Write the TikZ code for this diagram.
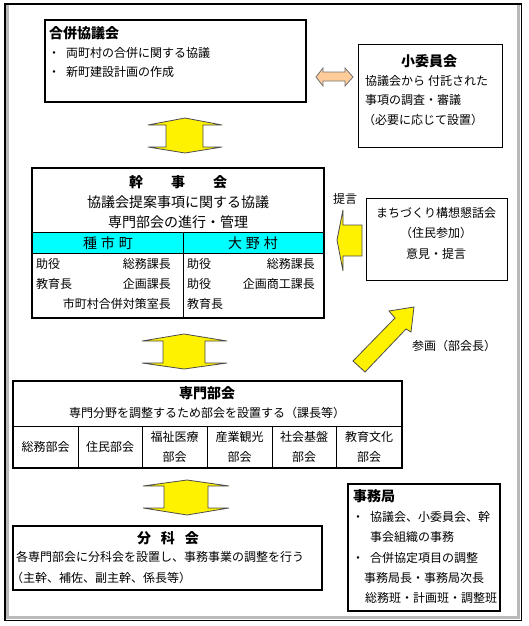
\documentclass[tikz,border=0pt]{standalone}
\usepackage{fontspec}
\newfontfamily\jp{Noto Sans CJK JP}
\begin{document}
\begin{tikzpicture}[x=1pt,y=-1pt,
  t/.style={inner sep=0pt, font=\jp\fontsize{12}{14}\selectfont, text height=10.5pt, text depth=1.5pt},
  tm/.style={inner sep=0pt, font=\jp\fontsize{14}{16}\selectfont, text height=12.3pt, text depth=1.7pt},
  tb/.style={inner sep=0pt, font=\jp\bfseries\fontsize{14}{16}\selectfont, text height=12.3pt, text depth=1.7pt},
  thickbox/.style={draw, line width=2pt, inner sep=0pt},
  thinbox/.style={draw, line width=1pt, inner sep=0pt},
  yarrow/.style={fill=yellow, draw=black!70, line width=0.8pt, line join=miter},
  oarrow/.style={fill=peach, draw=black!55, line width=0.8pt, line join=miter},
  sep/.style={line width=1pt}]
\definecolor{peach}{HTML}{FFCC99}
\definecolor{cyanrow}{HTML}{00FFFF}
\useasboundingbox (0,0) rectangle (528,626);
% outer frame
\draw[gray!55, line width=2.5pt] (7.5,5) -- (7.5,617.5) -- (518.5,617.5) -- (518.5,5);
\draw[line width=1.6pt] (5,4) rectangle (521.5,620.5);

% 合併協議会
\node[thickbox, minimum width=261pt, minimum height=82pt] (gappei) at (175.5,61) {};
\node[tb, anchor=west] (gappeiT) at (49,33) {合併協議会};
\node[t] (gb1) at (54,53) {・};
\node[t, anchor=west] (gl1) at (66,53) {両町村の合併に関する協議};
\node[t] (gb2) at (54,72) {・};
\node[t, anchor=west] (gl2) at (66,72) {新町建設計画の作成};

% 小委員会
\node[thinbox, minimum width=144pt, minimum height=102pt] (sho) at (430,96) {};
\node[tb] (shoT) at (429,61) {小委員会};
\node[t, anchor=west] (sl1) at (365,81) {協議会から\hspace{3pt}付託された};
\node[t, anchor=west] (sl2) at (365,100) {事項の調査・審議};
\node[t, anchor=west] (sl3) at (363,120) {（必要に応じて設置）};

% orange double arrow
\draw[oarrow] (316,77) -- (323,68) -- (323,72) -- (345,72) -- (345,68) -- (353,77)
  -- (345,86) -- (345,81) -- (323,81) -- (323,86) -- cycle;

% yellow arrow 1
\draw[yarrow] (185,118) -- (222,125) -- (203,125) -- (203,147) -- (222,147) -- (185,153)
  -- (148,147) -- (166,147) -- (166,125) -- (148,125) -- cycle;

% 幹事会
\fill[cyanrow] (32,232) rectangle (324,253);
\node[thickbox, minimum width=292pt, minimum height=150pt] (kanji) at (178,243) {};
\draw[sep] (kanji.west |- 0,232) -- (kanji.east |- 0,232);
\draw[sep] (kanji.west |- 0,253) -- (kanji.east |- 0,253);
\draw[sep] (183,232) -- (183,318);
\node[tb] (kanjiT) at (178,182) {幹　　事　　会};
\node[tm] (kl1) at (178,202) {協議会提案事項に関する協議};
\node[tm] (kl2) at (178,222) {専門部会の進行・管理};
\node[tm] (tane) at (108,243) {種\hspace{4pt}市\hspace{4pt}町};
\node[tm] (ono) at (253,243) {大\hspace{4pt}野\hspace{4pt}村};
\node[t, anchor=west] (a1) at (36,264) {助役};
\node[t, anchor=east] (a2) at (171,264) {総務課長};
\node[t, anchor=west] (a3) at (36,284) {教育長};
\node[t, anchor=east] (a4) at (171,284) {企画課長};
\node[t, anchor=east] (a5) at (171,304) {市町村合併対策室長};
\node[t, anchor=west] (b1) at (187,264) {助役};
\node[t, anchor=east] (b2) at (315,264) {総務課長};
\node[t, anchor=west] (b3) at (187,284) {助役};
\node[t, anchor=east] (b4) at (315,284) {企画商工課長};
\node[t, anchor=west] (b5) at (187,304) {教育長};

% 提言 and left arrow
\node[t] (teigen) at (345,199) {提言};
\draw[yarrow] (337,240) -- (343,210) -- (343,225) -- (362,225) -- (362,256) -- (343,256) -- (343,271) -- cycle;

% まちづくり構想懇話会
\node[thinbox, minimum width=141pt, minimum height=82pt] (machi) at (436.5,239) {};
\node[t] (ml1) at (436,213) {まちづくり構想懇話会};
\node[t] (ml2) at (436,233) {（住民参加）};
\node[t] (ml3) at (436,254) {意見・提言};

% diagonal arrow
\draw[yarrow] (414,307) -- (411,332) -- (406,329) -- (365,372) -- (353,361) -- (395,318) -- (389,311) -- cycle;
\node[t, anchor=west] (sankaku) at (412,346) {参画（部会長）};

% yellow arrow 2
\draw[yarrow] (184,334) -- (227,341) -- (205,341) -- (205,363) -- (227,363) -- (184,369)
  -- (142,363) -- (163,363) -- (163,341) -- (142,341) -- cycle;

% 専門部会
\node[thickbox, minimum width=389pt, minimum height=87pt] (senmon) at (207.5,424.5) {};
\draw[sep] (senmon.west |- 0,426) -- (senmon.east |- 0,426);
\foreach \xx in {78,142,207,272,336} \draw[sep] (\xx,426) -- (\xx,468);
\node[tb] (senmonT) at (207,393) {専門部会};
\node[t] (senmonL) at (207,413) {専門分野を調整するため部会を設置する（課長等）};
\node[t] (c1) at (45.5,447) {総務部会};
\node[t] (c2) at (110,447) {住民部会};
\node[t] (c3a) at (174.5,437) {福祉医療};
\node[t] (c3b) at (174.5,457) {部会};
\node[t] (c4a) at (239.5,437) {産業観光};
\node[t] (c4b) at (239.5,457) {部会};
\node[t] (c5a) at (304,437) {社会基盤};
\node[t] (c5b) at (304,457) {部会};
\node[t] (c6a) at (369,437) {教育文化};
\node[t] (c6b) at (369,457) {部会};

% yellow arrow 3
\draw[yarrow] (187,480) -- (229,486) -- (208,486) -- (208,508) -- (229,508) -- (187,515)
  -- (143,508) -- (164,508) -- (164,486) -- (143,486) -- cycle;

% 分科会
\node[thickbox, minimum width=309pt, minimum height=64pt] (bunka) at (167.5,558) {};
\node[tb] (bunkaT) at (168,538) {分\hspace{10pt}科\hspace{10pt}会};
\node[t, anchor=west] (bl1) at (16,557) {各専門部会に分科会を設置し、事務事業の調整を行う};
\node[t, anchor=west] (bl2) at (11,578) {（主幹、補佐、副主幹、係長等）};

% 事務局
\node[thickbox, minimum width=152pt, minimum height=127pt] (jimu) at (424,547.5) {};
\node[tb, anchor=west] (jimuT) at (353,496) {事務局};
\node[t] (jb1) at (358,517) {・};
\node[t, anchor=west] (jl1) at (370,517) {協議会、小委員会、幹};
\node[t, anchor=west] (jl2) at (370,537) {事会組織の事務};
\node[t] (jb2) at (358,558) {・};
\node[t, anchor=west] (jl3) at (370,558) {合併協定項目の調整};
\node[t, anchor=west] (jl4) at (364,578) {事務局長・事務局次長};
\node[t, anchor=west] (jl5) at (365,598) {総務班・計画班・調整班};
\end{tikzpicture}
\end{document}
